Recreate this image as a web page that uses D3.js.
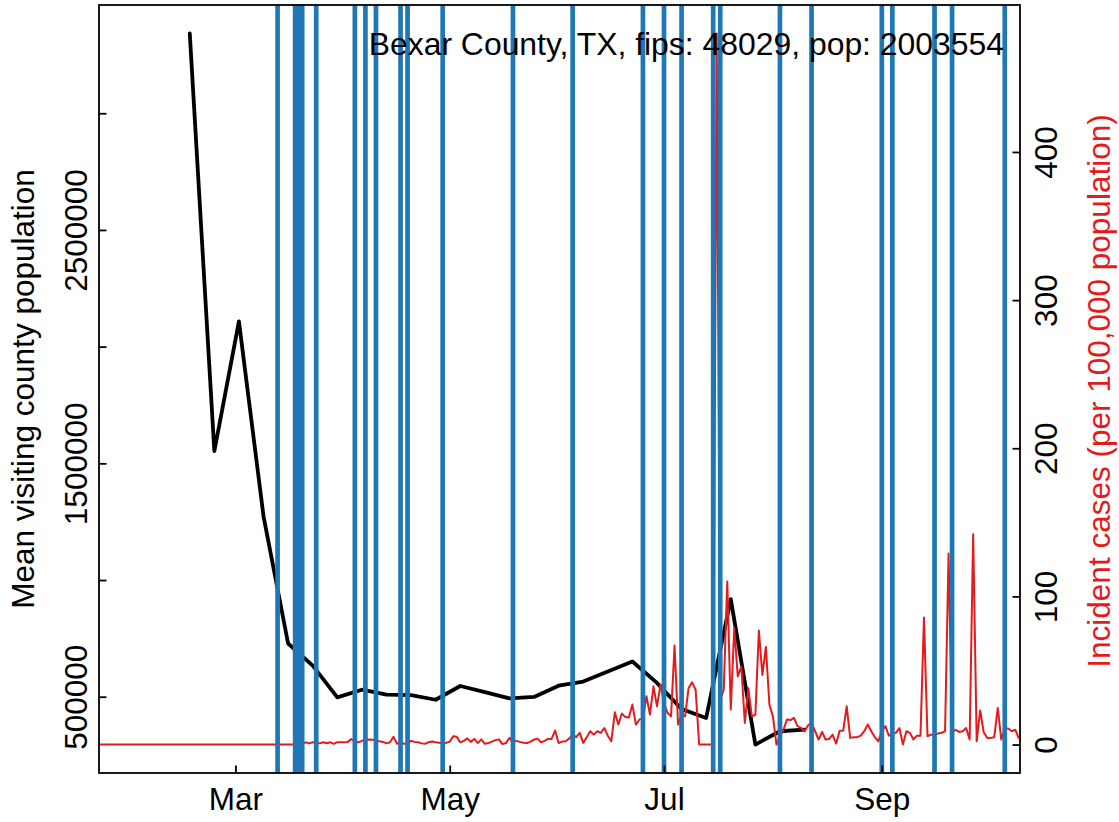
<!DOCTYPE html>
<html><head><meta charset="utf-8">
<script src="https://cdn.jsdelivr.net/npm/d3@7"></script>
<style>
body{margin:0;background:#fff}
svg{display:block}
text{font-family:"Liberation Sans",Arial,Helvetica,sans-serif}
</style>
</head><body>
<svg id="chart" width="1119" height="822"></svg>
<script>
// ---------------- data ----------------
const visitWeeks = ["2020-02-17","2020-02-24","2020-03-02","2020-03-09","2020-03-16","2020-03-23","2020-03-30",
  "2020-04-06","2020-04-13","2020-04-20","2020-04-27","2020-05-04","2020-05-11","2020-05-18","2020-05-25",
  "2020-06-01","2020-06-08","2020-06-15","2020-06-22","2020-06-29","2020-07-06","2020-07-13","2020-07-20",
  "2020-07-27","2020-08-03","2020-08-10"];
const meanVisitingPop = [3342000,1552000,2108000,1273000,728000,633000,497000,
  530000,509000,507000,487000,546000,520000,493000,499000,
  547000,565000,608000,651000,559000,447000,409000,918000,
  295000,352000,359000];

const caseStartDate = "2020-01-22";
const incidentCases = [
  0,0,0,0,0,0,0,0,0,0,
  0,0,0,0,0,0,0,0,0,0,
  0,0,0,0,0,0,0,0,0,0,
  0,0,0,0,0,0,0,0,0,0,
  0,0,0,0,0,0,0,0,0,0,
  0,0,0,0,0,0,0,0,0.5,1.5,
  0.8,1.5,1.2,0.8,1.6,0.9,1.5,0.5,1.6,1.5,
  1.6,1.8,3.8,2,1.5,2.5,3,3.4,3.3,2.8,
  2.2,1.8,0.8,1.5,5.2,0.5,2,0.5,0.5,2.5,
  1.8,1.5,0.8,0.5,1.6,2,1.5,1.2,0.8,1.2,
  2,5.6,5.2,1.5,2.5,4.2,1.8,3.8,1,3.5,
  0.5,1,2,3,3.5,0.3,1,4.5,1.5,2.5,
  1.8,1.2,1,2,3.4,4,1.5,2.5,3.8,3.8,
  9.4,1,2,2.2,4,6.7,5,7.9,1.1,5,
  9,6.7,9,7.9,11.2,6,2.2,21.8,13.5,20.9,
  18.6,18.2,27,13.5,16.9,17.5,32.6,20.2,39.3,25.8,
  40.5,28,21.4,19,66.8,13.5,20.2,19,38.2,42,
  37,0,0,0,0,0,480,30,37,110,
  23.6,78.7,46,52.8,14.6,38,19,20,77,47,
  65.9,27,19,0,5.6,10,16.9,16.5,18,12.4,
  11.3,9,13,14.6,9,3.4,8.5,3.4,3.8,6.7,
  0.7,9.4,9.4,25.8,4.5,5,5,6,9,13.5,
  9,5,2.2,9,12.4,6,7.5,7.9,11.2,0,
  9,7.9,3.4,6,6,85.8,5.6,6.7,6.7,7.5,
  7.9,9,129,8.3,10,8.5,9,11.2,3.4,142,
  2.2,23,8.3,4.5,4.5,5,24.7,3.4,10.8,10.8,
  9,10,4
];

const policyDates = ["2020-03-13","2020-03-18","2020-03-19","2020-03-20","2020-03-24","2020-04-04",
  "2020-04-07","2020-04-10","2020-04-17","2020-04-19","2020-04-29","2020-05-19","2020-06-05",
  "2020-06-25","2020-07-01","2020-07-06","2020-07-15","2020-07-17","2020-08-03","2020-08-12",
  "2020-09-01","2020-09-04","2020-09-16","2020-09-21","2020-10-06"];

const xDomainDates = ["2020-01-22T04:00:00Z","2020-10-10T08:00:00Z"];
const xTickDates = ["2020-03-01","2020-05-01","2020-07-01","2020-09-01"];
const xTickLabels = ["Mar","May","Jul","Sep"];
const leftTickValues = [500000,1000000,1500000,2000000,2500000,3000000];
const leftTickLabels = ["500000","","1500000","","2500000",""];
const rightTickValues = [0,100,200,300,400];
const rightTickLabels = ["0","100","200","300","400"];

const titleText = "Bexar County, TX, fips: 48029, pop: 2003554";
const leftAxisTitle = "Mean visiting county population";
const rightAxisTitle = "Incident cases (per 100,000 population)";

// ---------------- layout ----------------
const W = 1119, H = 822;
const L = 99, R = 1020, T = 5, B = 773;
const FS = 31.5;
const BLACK = "#000", RED = "#e41a1c", BLUE = "#1f77b4";
const TICK = 7.5;

const parseDay = d3.utcParse("%Y-%m-%d");
const svg = d3.select("#chart");

function rPad(ext){ const r = ext[1]-ext[0]; return [ext[0]-0.04*r, ext[1]+0.04*r]; }

const x = d3.scaleUtc().domain(xDomainDates.map(d => new Date(d))).range([L, R]);
const yL = d3.scaleLinear().domain(rPad(d3.extent(meanVisitingPop))).range([B, T]);
const yR = d3.scaleLinear().domain(rPad(d3.extent(incidentCases))).range([B, T]);

const visitData = visitWeeks.map((d,i) => ({date: parseDay(d), v: meanVisitingPop[i]}));
const start = parseDay(caseStartDate);
const caseData = incidentCases.map((v,i) => ({date: d3.utcDay.offset(start, i), v}));

svg.append("defs").append("clipPath").attr("id","plotclip")
  .append("rect").attr("x",L).attr("y",T).attr("width",R-L).attr("height",B-T);

const plot = svg.append("g").attr("clip-path","url(#plotclip)");

// black line
plot.append("path").datum(visitData)
  .attr("fill","none").attr("stroke",BLACK).attr("stroke-width",3.8)
  .attr("stroke-linejoin","round").attr("stroke-linecap","round")
  .attr("d", d3.line().x(d => x(d.date)).y(d => yL(d.v)));

// title text
svg.append("text").attr("x",1004).attr("y",55).attr("text-anchor","end")
  .attr("font-size",31.9).attr("fill",BLACK).text(titleText);

// red line
plot.append("path").datum(caseData)
  .attr("fill","none").attr("stroke",RED).attr("stroke-width",2)
  .attr("stroke-linejoin","round")
  .attr("d", d3.line().x(d => x(d.date)).y(d => yR(d.v)));

// blue vertical lines
plot.selectAll("line.policy").data(policyDates.map(parseDay)).join("line")
  .attr("class","policy")
  .attr("x1", d => x(d)).attr("x2", d => x(d))
  .attr("y1", T).attr("y2", B)
  .attr("stroke", BLUE).attr("stroke-width", 4.7);

// axes
const axStyle = g => {
  g.select(".domain").remove();
  g.selectAll(".tick line").attr("stroke",BLACK).attr("stroke-width",1.8);
  g.selectAll("text").attr("font-size",FS).attr("fill",BLACK).attr("font-family",'"Liberation Sans",Arial,sans-serif');
};

svg.append("g").attr("transform",`translate(0,${B})`)
  .call(d3.axisBottom(x).tickValues(xTickDates.map(parseDay))
    .tickFormat((d,i) => xTickLabels[i]).tickSizeInner(-TICK).tickSizeOuter(0).tickPadding(14.6))
  .call(axStyle);

const lAxis = svg.append("g").attr("transform",`translate(${L},0)`)
  .call(d3.axisLeft(yL).tickValues(leftTickValues)
    .tickFormat((d,i) => leftTickLabels[i]).tickSizeInner(-TICK).tickSizeOuter(0))
  .call(axStyle);
lAxis.selectAll(".tick text")
  .attr("x",0).attr("y",0).attr("dy",null).attr("dx",null)
  .attr("text-anchor","middle")
  .attr("transform","translate(-12,0) rotate(-90)");

const rAxis = svg.append("g").attr("transform",`translate(${R},0)`)
  .call(d3.axisRight(yR).tickValues(rightTickValues)
    .tickFormat((d,i) => rightTickLabels[i]).tickSizeInner(-TICK).tickSizeOuter(0))
  .call(axStyle);
rAxis.selectAll(".tick text")
  .attr("x",0).attr("y",0).attr("dy",null).attr("dx",null)
  .attr("text-anchor","middle")
  .attr("transform","translate(37,0) rotate(-90)");

// box
svg.append("rect").attr("x",L).attr("y",T).attr("width",R-L).attr("height",B-T)
  .attr("fill","none").attr("stroke",BLACK).attr("stroke-width",1.8);

// axis titles
svg.append("text").attr("transform",`translate(33.5,${(T+B)/2}) rotate(-90)`)
  .attr("text-anchor","middle").attr("font-size",FS).attr("fill",BLACK).text(leftAxisTitle);
svg.append("text").attr("transform",`translate(1109.5,${(T+B)/2+2}) rotate(-90)`)
  .attr("text-anchor","middle").attr("font-size",FS).attr("fill",RED).text(rightAxisTitle);
</script>
</body></html>
